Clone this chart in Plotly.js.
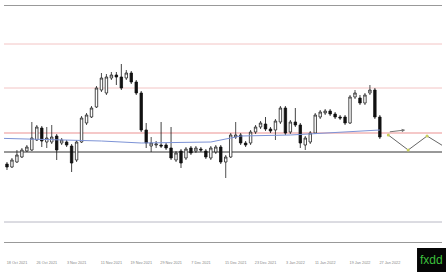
<!DOCTYPE html>
<html><head><meta charset="utf-8">
<script src="https://cdn.plot.ly/plotly-3.0.1.min.js"></script>
<style>html,body{margin:0;padding:0;background:#fff}#c{width:446px;height:272px}</style>
</head><body><div id="c"></div><script>
const open=[1.139,1.1375,1.140,1.1425,1.1455,1.146,1.151,1.157,1.150,1.150,1.153,1.1495,1.150,1.148,1.141,1.150,1.1595,1.1625,1.1675,1.176,1.1745,1.182,1.1835,1.1825,1.182,1.1845,1.180,1.1745,1.156,1.148,1.1485,1.1485,1.1485,1.147,1.141,1.1455,1.142,1.147,1.1455,1.1465,1.1455,1.142,1.145,1.1475,1.140,1.1425,1.1525,1.1535,1.1495,1.1495,1.155,1.1575,1.159,1.1565,1.156,1.160,1.167,1.155,1.160,1.1585,1.1485,1.150,1.1545,1.1625,1.1645,1.1655,1.164,1.1625,1.1625,1.1595,1.1725,1.172,1.1695,1.1745,1.176,1.1625];
const high=[1.140,1.142,1.146,1.147,1.1485,1.160,1.1585,1.158,1.1575,1.1585,1.154,1.152,1.151,1.149,1.151,1.163,1.1645,1.168,1.178,1.1845,1.184,1.185,1.185,1.189,1.186,1.1855,1.181,1.1755,1.1595,1.1525,1.1505,1.160,1.1495,1.1575,1.1455,1.1465,1.1475,1.148,1.148,1.1475,1.1465,1.148,1.1485,1.1485,1.1435,1.1545,1.160,1.1545,1.1505,1.156,1.1585,1.1605,1.1625,1.1575,1.1615,1.168,1.168,1.161,1.167,1.1595,1.153,1.1555,1.1645,1.166,1.1665,1.1665,1.165,1.1635,1.1635,1.1735,1.176,1.1735,1.1745,1.1785,1.177,1.1635];
const low=[1.136,1.137,1.1395,1.142,1.145,1.1455,1.1505,1.1475,1.147,1.149,1.141,1.1485,1.1475,1.135,1.140,1.1495,1.1585,1.162,1.167,1.175,1.1735,1.181,1.1785,1.176,1.181,1.179,1.1735,1.155,1.147,1.145,1.147,1.147,1.146,1.141,1.140,1.137,1.141,1.1435,1.1445,1.145,1.1415,1.141,1.144,1.139,1.132,1.142,1.1515,1.1485,1.1475,1.1485,1.154,1.1565,1.1555,1.1545,1.151,1.159,1.1535,1.154,1.1575,1.147,1.146,1.149,1.154,1.1615,1.1635,1.163,1.1615,1.161,1.1585,1.159,1.1715,1.1685,1.1685,1.1735,1.1615,1.1515];
const close=[1.1375,1.141,1.1435,1.146,1.1475,1.152,1.1575,1.1505,1.152,1.1525,1.146,1.151,1.1485,1.1395,1.150,1.162,1.1635,1.167,1.177,1.182,1.1825,1.1835,1.1825,1.177,1.1845,1.180,1.1745,1.156,1.1495,1.1495,1.149,1.148,1.147,1.142,1.1445,1.1395,1.1465,1.1445,1.147,1.146,1.1425,1.147,1.1475,1.140,1.1425,1.1535,1.1535,1.1495,1.1485,1.155,1.1575,1.1595,1.1565,1.1555,1.1605,1.167,1.1545,1.160,1.1585,1.1495,1.152,1.1545,1.1635,1.165,1.1655,1.164,1.1625,1.162,1.1595,1.1725,1.1745,1.1695,1.1735,1.176,1.1625,1.1525];
const tickIdx=[0,6,12,19,25,31,37,44,50,56,62,69,75];
const tickLabels=["18 Oct 2021","26 Oct 2021","3 Nov 2021","11 Nov 2021","19 Nov 2021","29 Nov 2021","7 Dec 2021","15 Dec 2021","23 Dec 2021","3 Jan 2022","11 Jan 2022","19 Jan 2022","27 Jan 2022"];
const maIdx=[-0.6,19,27,41,47,57,75];
const maVal=[1.1518,1.1505,1.1495,1.150,1.153,1.1535,1.156];
const pinkLevels=[1.199,1.177];
const pinkBoldLevel=1.1545;
const blackLevel=1.145;
const grayLevel=1.110;
const projIdx=[76.7,80.7,84.5,88.4];
const projVal=[1.1535,1.146,1.153,1.147];
const arrowIdx=[76.7,80.1];
const arrowVal=[1.155,1.156];

const xs=open.map((_,i)=>i);
const hl=(y,color,w)=>({type:'line',xref:'paper',x0:0,x1:1,yref:'y',y0:y,y1:y,line:{color:color,width:w},layer:'below'});
const shapes=[
  ...pinkLevels.map(v=>hl(v,'#f3c4c4',1)),
  hl(pinkBoldLevel,'#f5c8c8',2),
  hl(blackLevel,'#333333',1),
  hl(grayLevel,'#b8b8c4',1),
  {type:'rect',xref:'paper',yref:'paper',x0:0.943,x1:1.02,y0:-0.14,y1:-0.025,fillcolor:'#050505',line:{width:0}}
];
const data=[
  {type:'scatter',x:maIdx,y:maVal,mode:'lines',line:{color:'#7d93d6',width:1},hoverinfo:'skip'},
  {type:'candlestick',x:xs,open:open,high:high,low:low,close:close,whiskerwidth:0,
   increasing:{line:{color:'#222',width:0.8},fillcolor:'#ffffff'},
   decreasing:{line:{color:'#111',width:0.8},fillcolor:'#111111'}},
  {type:'scatter',x:projIdx,y:projVal,mode:'lines+markers',line:{color:'#666',width:1},marker:{size:3,color:'#c9cf5a'},hoverinfo:'skip'}
];
const layout={
  width:446,height:272,margin:{l:4,r:4,t:6,b:30},
  paper_bgcolor:'#ffffff',plot_bgcolor:'#ffffff',showlegend:false,
  xaxis:{range:[-0.6,87.5],rangeslider:{visible:false},showgrid:false,zeroline:false,
    showline:true,mirror:true,linecolor:'#999',linewidth:1,
    tickmode:'array',tickvals:tickIdx,ticktext:tickLabels,ticks:'',
    tickfont:{family:'Liberation Sans',size:3.8,color:'#888'},ticklabelshift:10,ticklabelstandoff:16},
  yaxis:{range:[1.100,1.218],showgrid:false,zeroline:false,showticklabels:false,showline:false,ticks:''},
  shapes:shapes,
  annotations:[
    {x:arrowIdx[1],y:arrowVal[1],ax:arrowIdx[0],ay:arrowVal[0],xref:'x',yref:'y',axref:'x',ayref:'y',
     showarrow:true,arrowhead:2,arrowsize:0.7,arrowwidth:1,arrowcolor:'#777',text:''},
    {xref:'paper',yref:'paper',x:0.946,y:-0.075,xanchor:'left',yanchor:'middle',showarrow:false,
     text:'fxdd',font:{family:'Liberation Sans',size:12,color:'#3cbf3c'}}
  ]
};
Plotly.newPlot('c',data,layout,{staticPlot:true,displayModeBar:false});
</script></body></html>
